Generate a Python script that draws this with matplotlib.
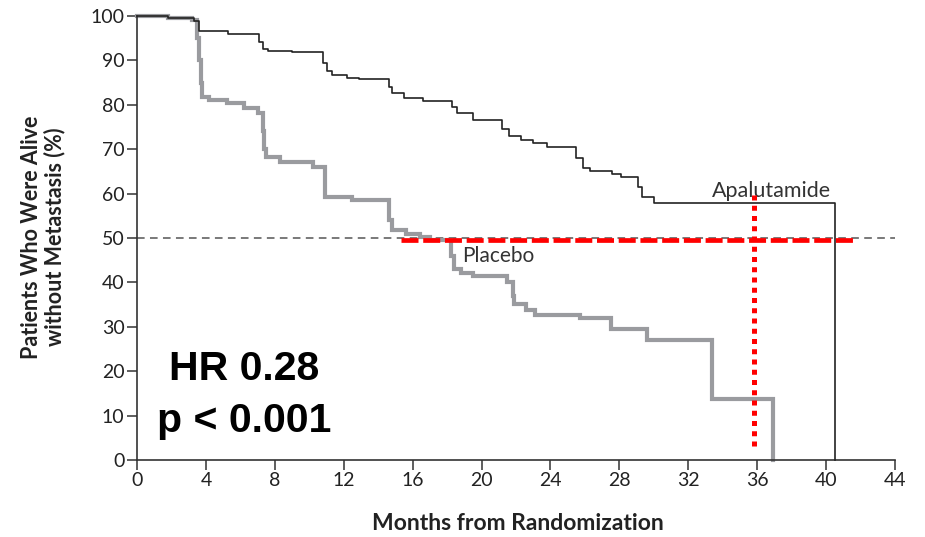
import matplotlib
matplotlib.use("Agg")
import matplotlib.pyplot as plt

# ---- data ----
apa_months = [0, 1.8, 3.3, 3.6, 5.3, 7.1, 7.3, 7.6, 9.0, 10.8, 11.0, 11.3, 12.2, 12.9,
              14.6, 14.8, 15.5, 16.6, 18.3, 18.6, 19.5, 21.2, 21.6, 22.3, 23.0, 23.8,
              25.5, 25.9, 26.3, 27.6, 28.1, 29.1, 29.3, 30.0, 40.5]
apa_surv = [100, 99.6, 98.8, 96.6, 95.9, 94.2, 92.6, 92.2, 91.8, 89.5, 87.6, 86.6, 86.1, 85.8,
            84.0, 82.6, 81.6, 80.9, 79.4, 78.2, 76.6, 74.5, 73.0, 72.1, 71.5, 70.4,
            68.0, 65.8, 65.2, 64.4, 63.8, 61.5, 59.3, 57.9, 0]

pla_months = [0, 1.8, 3.2, 3.5, 3.6, 3.7, 3.8, 4.2, 5.2, 6.2, 7.0, 7.3, 7.4, 7.5, 8.3,
              10.2, 10.9, 12.5, 14.6, 14.8, 15.6, 16.4, 17.0, 18.2, 18.4, 18.8, 19.5,
              21.5, 21.8, 21.9, 22.6, 23.1, 25.7, 27.5, 29.6, 33.4, 36.9]
pla_surv = [100, 99.6, 99.0, 95.0, 90.0, 85.0, 81.8, 81.1, 80.3, 79.2, 78.1, 74.0, 70.0, 68.3, 67.2,
            66.1, 59.3, 58.6, 54.0, 51.8, 51.0, 50.3, 49.5, 46.0, 43.0, 42.1, 41.4,
            40.0, 37.0, 35.1, 33.8, 32.7, 31.9, 29.4, 27.0, 13.7, 0]

median_line_y = 50
red_h_x = [15.3, 41.6]
red_h_y = [49.5, 49.5]
red_v_x = [35.8, 35.8]
red_v_y = [59.7, 2.3]

x_ticks = list(range(0, 45, 4))
y_ticks = list(range(0, 101, 10))

series_labels = ["Apalutamide", "Placebo"]
stats_text = ["HR 0.28", "p < 0.001"]
xlabel = "Months from Randomization"
ylabel = "Patients Who Were Alive\nwithout Metastasis (%)"

# ---- figure ----
fig = plt.figure(figsize=(9.25, 5.37), dpi=100)
ax = fig.add_axes([137/925, 77/537, 758/925, 444/537])

ax.axhline(median_line_y, color="#555555", lw=1.1, dashes=(5, 3.5), zorder=1)

ax.step(pla_months, pla_surv, where="post", color="#9a9b9f", lw=3.0,
        solid_joinstyle="miter", clip_on=False, zorder=2)
ax.step(apa_months, apa_surv, where="post", color="#222222", lw=1.2,
        clip_on=False, zorder=3)

ax.plot(red_h_x, red_h_y, color="#ff0000", lw=3.4, dashes=(3.6, 1.0), zorder=4)
ax.plot(red_v_x, red_v_y, color="#ff0000", lw=3.6, dashes=(1.0, 1.05), zorder=4)

ax.text(33.4, 59.2, series_labels[0], fontsize=15.5, family="Lato", color="#333333",
        ha="left", va="baseline")
ax.text(18.9, 44.7, series_labels[1], fontsize=15, family="Lato", color="#333333",
        ha="left", va="baseline")

ax.text(6.2, 18.0, stats_text[0], fontsize=29.5, family="Liberation Sans",
        weight="bold", ha="center", va="baseline", color="black")
ax.text(6.2, 6.3, stats_text[1], fontsize=29.5, family="Liberation Sans",
        weight="bold", ha="center", va="baseline", color="black")

ax.set_xlim(0, 44)
ax.set_ylim(0, 100)
ax.set_xticks(x_ticks)
ax.set_yticks(y_ticks)
for s in ["top", "right"]:
    ax.spines[s].set_visible(False)
for s in ["left", "bottom"]:
    ax.spines[s].set_color("#333333")
    ax.spines[s].set_linewidth(1.2)
ax.tick_params(direction="out", length=7, width=1.1, color="#333333",
               labelsize=14, labelcolor="#222222", pad=2)
for lab in ax.get_xticklabels() + ax.get_yticklabels():
    lab.set_family("Lato")

fig.text(518/925, (537-523)/537, xlabel, ha="center", va="center",
         fontsize=16.5, weight="bold", family="Lato", color="#222222")
fig.text(43/925, (537-237)/537, ylabel, ha="center", va="center", rotation=90,
         fontsize=15.5, weight="bold", family="Lato", color="#222222",
         multialignment="center", linespacing=1.1)

fig.savefig("out.png", dpi=100)
